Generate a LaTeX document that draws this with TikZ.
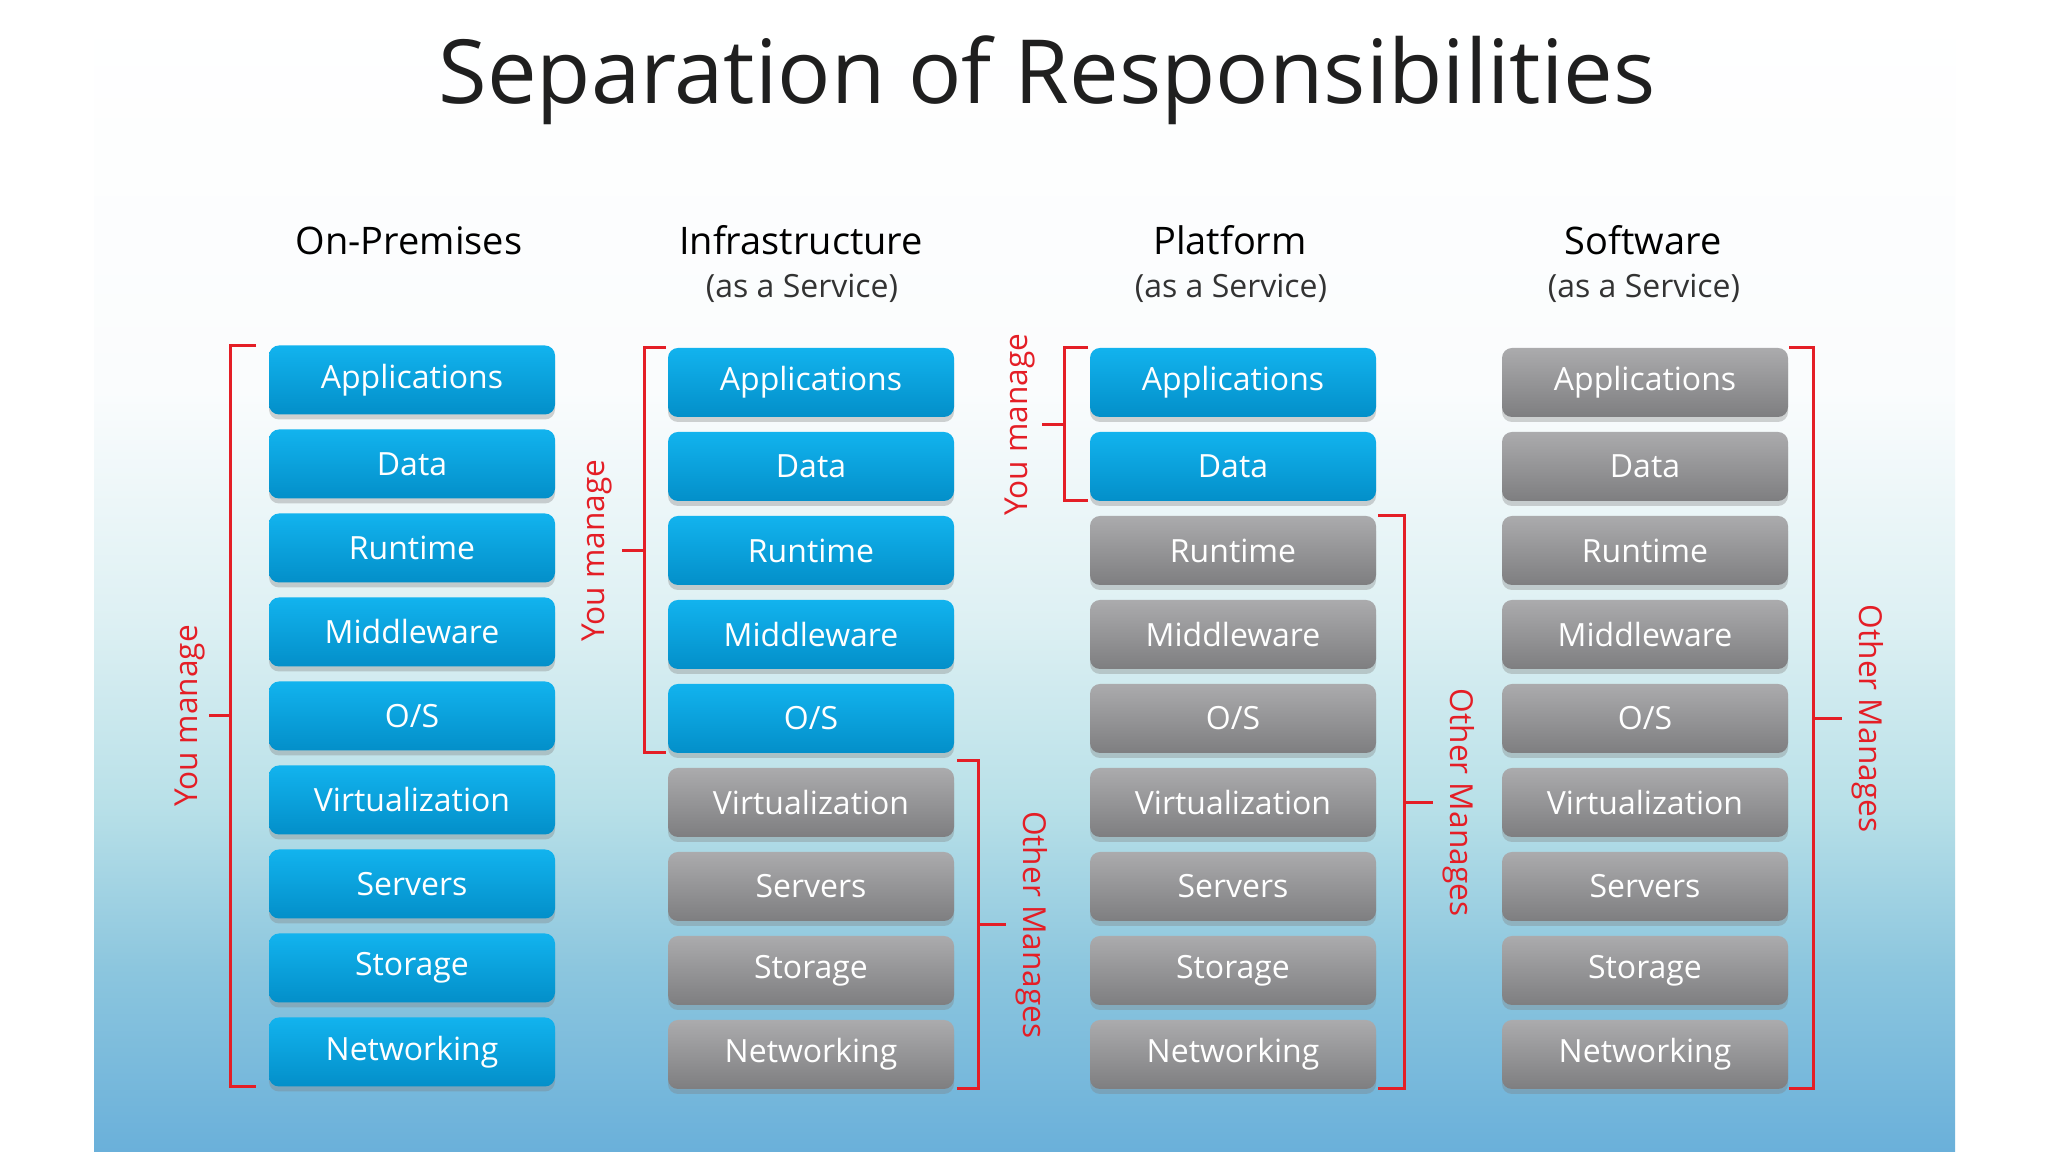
\documentclass[tikz,border=0pt]{standalone}
\usepackage{fontspec}
\setmainfont{Open Sans}
\usetikzlibrary{positioning,shadows,calc}
\definecolor{bluetop}{HTML}{12B3EE}
\definecolor{bluebot}{HTML}{038FC9}
\definecolor{greytop}{HTML}{ABABAD}
\definecolor{greybot}{HTML}{7E7E80}
\definecolor{mgred}{HTML}{E41E26}
\definecolor{bgbot}{HTML}{6AB0DA}
\definecolor{bgmida}{HTML}{8CC6DE}
\definecolor{bgmidb}{HTML}{B8E0E8}
\definecolor{bgmidc}{HTML}{DDF0F3}
\definecolor{bgtop}{HTML}{FAFCFD}
\pgfdeclareverticalshading{slidebg}{100bp}{color(0bp)=(bgbot); color(25bp)=(bgbot); color(33bp)=(bgmida); color(40bp)=(bgmidb); color(48bp)=(bgmidc); color(58bp)=(bgtop); color(75bp)=(white); color(100bp)=(white)}

\begin{document}
\begin{tikzpicture}[
		x=0.1mm, y=-0.1mm,
		node distance=1.5mm,
		layer/.style={rounded corners=1mm, minimum width=28.6mm, minimum height=6.9mm, inner sep=0pt, outer sep=0pt, text=white, font=\fontsize{9.1}{10}\selectfont, drop shadow={shadow xshift=0mm, shadow yshift=-0.5mm, opacity=0.35}},
		you/.style={layer, top color=bluetop, bottom color=bluebot},
		other/.style={layer, top color=greytop, bottom color=greybot},
		head/.style={anchor=base, font=\fontsize{10.8}{12}\selectfont},
		sub/.style={anchor=base, font=\fontsize{9.1}{10}\selectfont, text=black!80},
		brace/.style={draw=mgred, line width=0.3mm},
		tag/.style={text=mgred, font=\fontsize{9}{10}\selectfont, inner sep=0.8mm, anchor=south}
		]
		
		\fill[white] (0,0) rectangle (2048,1152);
		\useasboundingbox (0,0) rectangle (2048,1152);
		\shade[shading=slidebg] (94,0) rectangle (1955,1152);
		
		\node[anchor=base, font=\fontsize{25.2}{28}\selectfont, text=black!88] (title) at (1047,104) {Separation of Responsibilities};
		
		\node[head] (ophead) at (409,255) {On-Premises};
		\node[head] (iaashead) at (801,255) {Infrastructure};
		\node[sub] (iaassub) at (802,298) {(as a Service)};
		\node[head] (paashead) at (1230,255) {Platform};
		\node[sub] (paassub) at (1231,298) {(as a Service)};
		\node[head] (saashead) at (1643,255) {Software};
		\node[sub] (saassub) at (1644,298) {(as a Service)};
		
		% ---- On-Premises ----
		\node[you] (opapps) at (412,380) {Applications};
		\node[you, below=of opapps] (opdata) {Data};
		\node[you, below=of opdata] (opruntime) {Runtime};
		\node[you, below=of opruntime] (opmiddle) {Middleware};
		\node[you, below=of opmiddle] (opos) {O/S};
		\node[you, below=of opos] (opvirt) {Virtualization};
		\node[you, below=of opvirt] (opservers) {Servers};
		\node[you, below=of opservers] (opstorage) {Storage};
		\node[you, below=of opstorage] (opnet) {Networking};
		
		% ---- Infrastructure ----
		\node[you] (iaasapps) at (811,382.5) {Applications};
		\node[you, below=of iaasapps] (iaasdata) {Data};
		\node[you, below=of iaasdata] (iaasruntime) {Runtime};
		\node[you, below=of iaasruntime] (iaasmiddle) {Middleware};
		\node[you, below=of iaasmiddle] (iaasos) {O/S};
		\node[other, below=of iaasos] (iaasvirt) {Virtualization};
		\node[other, below=of iaasvirt] (iaasservers) {Servers};
		\node[other, below=of iaasservers] (iaasstorage) {Storage};
		\node[other, below=of iaasstorage] (iaasnet) {Networking};
		
		% ---- Platform ----
		\node[you] (paasapps) at (1233,382.5) {Applications};
		\node[you, below=of paasapps] (paasdata) {Data};
		\node[other, below=of paasdata] (paasruntime) {Runtime};
		\node[other, below=of paasruntime] (paasmiddle) {Middleware};
		\node[other, below=of paasmiddle] (paasos) {O/S};
		\node[other, below=of paasos] (paasvirt) {Virtualization};
		\node[other, below=of paasvirt] (paasservers) {Servers};
		\node[other, below=of paasservers] (paasstorage) {Storage};
		\node[other, below=of paasstorage] (paasnet) {Networking};
		
		% ---- Software ----
		\node[other] (saasapps) at (1645,382.5) {Applications};
		\node[other, below=of saasapps] (saasdata) {Data};
		\node[other, below=of saasdata] (saasruntime) {Runtime};
		\node[other, below=of saasruntime] (saasmiddle) {Middleware};
		\node[other, below=of saasmiddle] (saasos) {O/S};
		\node[other, below=of saasos] (saasvirt) {Virtualization};
		\node[other, below=of saasvirt] (saasservers) {Servers};
		\node[other, below=of saasservers] (saasstorage) {Storage};
		\node[other, below=of saasstorage] (saasnet) {Networking};
		
		% ---- brackets ----
		\draw[brace] ([xshift=-1.3mm]opapps.north west) -- ++(-2.6mm,0) |- ([xshift=-1.3mm]opnet.south west);
		\coordinate (opmid) at ($(opapps.north west)!0.5!(opnet.south west)+(-3.9mm,0)$);
		\draw[brace] (opmid) -- ++(-2.1mm,0) node[tag, rotate=90, inner sep=0.2mm] {You manage};
		
		\draw[brace] ([xshift=-0.2mm]iaasapps.north west) -- ++(-2.2mm,0) |- ([xshift=-0.2mm]iaasos.south west);
		\coordinate (iaasmid) at ($(iaasapps.north west)!0.5!(iaasos.south west)+(-2.4mm,0)$);
		\draw[brace] (iaasmid) -- ++(-2.2mm,0) node[tag, rotate=90] {You manage};
		
		\coordinate (iaastop) at ($(iaasos.south east)!0.5!(iaasvirt.north east)+(0.3mm,0)$);
		\draw[brace] (iaastop) -- ++(2.1mm,0) |- ([xshift=0.3mm]iaasnet.south east);
		\coordinate (iaasomid) at ($(iaastop)!0.5!([xshift=0.3mm]iaasnet.south east)+(2.1mm,0)$);
		\draw[brace] (iaasomid) -- ++(2.8mm,0) node[tag, rotate=-90] {Other Manages};
		
		\draw[brace] ([xshift=-0.2mm]paasapps.north west) -- ++(-2.4mm,0) |- ([xshift=-0.2mm]paasdata.south west);
		\coordinate (paasmid) at ($(paasapps.north west)!0.5!(paasdata.south west)+(-2.6mm,0)$);
		\draw[brace] (paasmid) -- ++(-2.2mm,0) node[tag, rotate=90, inner sep=0.5mm] {You manage};
		
		\draw[brace] ([xshift=0.2mm]paasruntime.north east) -- ++(2.6mm,0) |- ([xshift=0.2mm]paasnet.south east);
		\coordinate (paasomid) at ($(paasruntime.north east)!0.5!(paasnet.south east)+(2.8mm,0)$);
		\draw[brace] (paasomid) -- ++(2.9mm,0) node[tag, rotate=-90] {Other Manages};
		
		\draw[brace] ([xshift=0.1mm]saasapps.north east) -- ++(2.4mm,0) |- ([xshift=0.1mm]saasnet.south east);
		\coordinate (saasomid) at ($(saasapps.north east)!0.5!(saasnet.south east)+(2.5mm,0)$);
		\draw[brace] (saasomid) -- ++(2.9mm,0) node[tag, rotate=-90] {Other Manages};
		
	\end{tikzpicture}
\end{document}
